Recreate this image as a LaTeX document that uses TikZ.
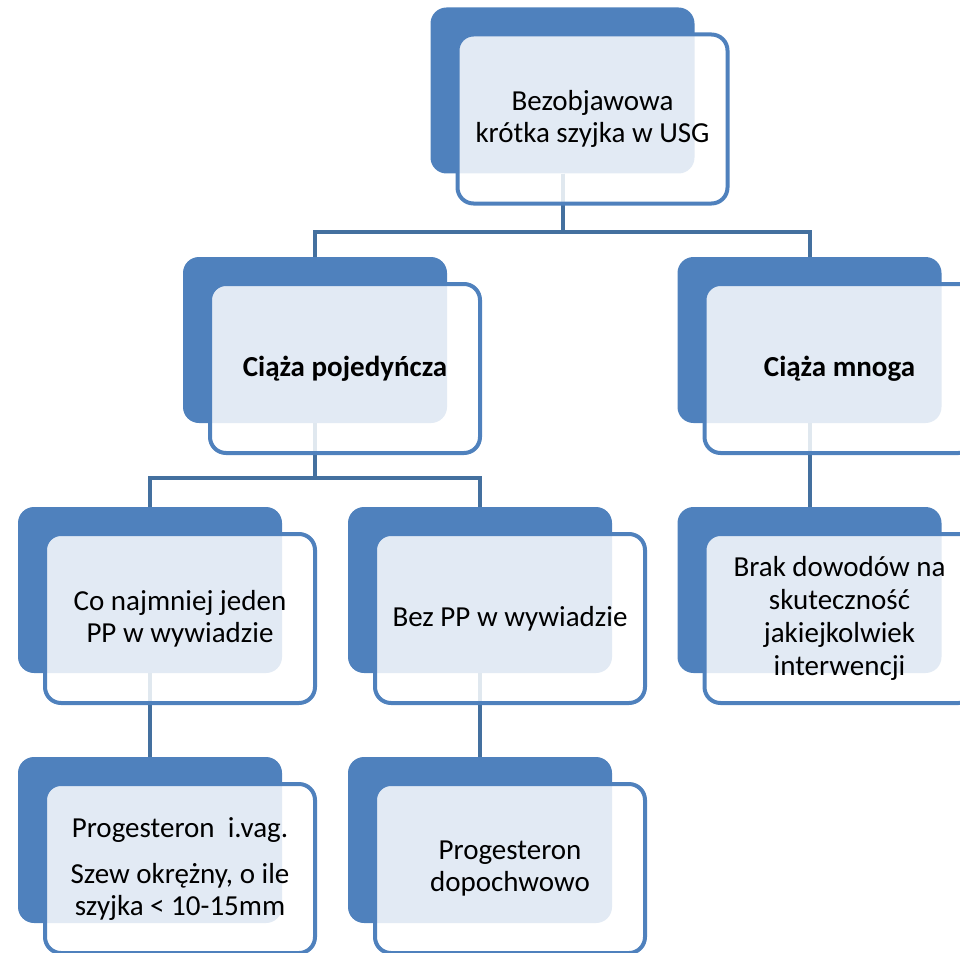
\documentclass[tikz,border=0pt]{standalone}
\usepackage{fontspec}
\setmainfont{Carlito}
\definecolor{myblue}{HTML}{4F81BD}
\definecolor{linkblue}{HTML}{44709F}
\begin{document}
\begin{tikzpicture}[x=1pt,y=-1pt,
  backbox/.style={fill=myblue, rounded corners=16pt, minimum width=264pt, minimum height=166pt, inner sep=0pt, draw=none},
  frontbox/.style={draw=myblue, line width=4pt, fill=white, fill opacity=0.84, text opacity=1, rounded corners=16pt, minimum width=270pt, minimum height=169pt, align=center, inner sep=0pt, font=\fontsize{29}{32}\selectfont},
  link/.style={draw=linkblue, line width=4pt}]
\useasboundingbox (0,0) rectangle (960,952);
\clip (0,0) rectangle (960,952);
% back boxes
\node[backbox] (topB) at (562.5,90.5) {};
\node[backbox] (pojB) at (315,340) {};
\node[backbox] (mnoB) at (809.5,340) {};
\node[backbox] (coB) at (150,590) {};
\node[backbox] (bezB) at (480,590) {};
\node[backbox] (brakB) at (809.5,590) {};
\node[backbox] (pr1B) at (150,840) {};
\node[backbox] (pr2B) at (480,840) {};
% connectors
\draw[link] (topB.south) -- ++(0,58) -| (pojB.north);
\draw[link] (topB.south) -- ++(0,58) -| (mnoB.north);
\draw[link] (pojB.south) -- ++(0,55) -| (coB.north);
\draw[link] (pojB.south) -- ++(0,55) -| (bezB.north);
\draw[link] (mnoB.south) -- (brakB.north);
\draw[link] (coB.south) -- (pr1B.north);
\draw[link] (bezB.south) -- (pr2B.north);
% front boxes
\node[frontbox] (top) at (592.5,119) {Bezobjawowa\\krótka szyjka w USG};
\node[frontbox] (poj) at (345,368.5) {\textbf{Ciąża pojedyńcza}};
\node[frontbox] (mno) at (839.5,368.5) {\textbf{Ciąża mnoga}};
\node[frontbox] (co) at (180,618.5) {Co najmniej jeden\\PP w wywiadzie};
\node[frontbox] (bez) at (510,618.5) {Bez PP w wywiadzie};
\node[frontbox, font=\fontsize{29}{33}\selectfont] (brak) at (839.5,618.5) {Brak dowodów na\\skuteczność\\jakiejkolwiek\\interwencji};
\node[frontbox] (pr1) at (180,868.5) {Progesteron~ i.vag.\\[14pt]Szew okrężny, o ile\\szyjka < 10-15mm};
\node[frontbox] (pr2) at (510,868.5) {Progesteron\\dopochwowo};
\end{tikzpicture}
\end{document}
